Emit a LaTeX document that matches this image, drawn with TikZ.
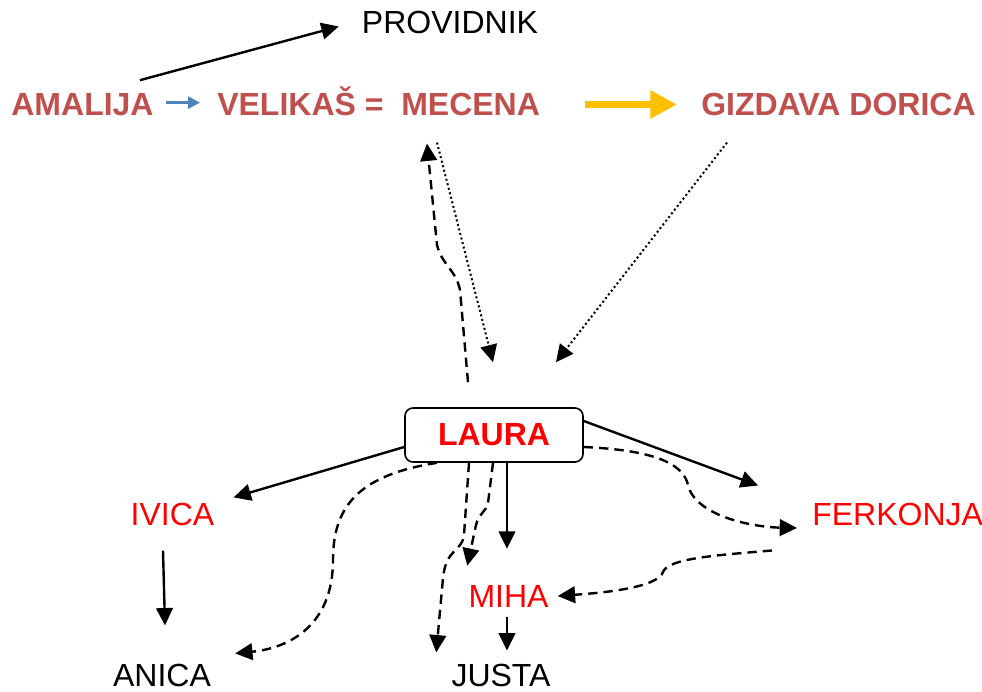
\documentclass[tikz,border=0pt]{standalone}
\usepackage{fontspec}
\setmainfont{Liberation Sans}
\usetikzlibrary{arrows.meta,calc}
\definecolor{tred}{HTML}{C0504D}
\definecolor{lred}{HTML}{FF0000}
\definecolor{ablue}{HTML}{4F81BD}
\definecolor{ayel}{HTML}{FFC000}
\begin{document}
\begin{tikzpicture}[x=0.75pt,y=-0.75pt,
  lbl/.style={inner sep=0pt, anchor=base, font=\fontsize{24}{28}\selectfont},
  hd/.style={lbl, font=\fontsize{24}{28}\selectfont\bfseries, text=tred},
  rd/.style={lbl, text=lred},
  conn/.style={line width=1.8pt, -{Triangle[length=13pt,width=12.5pt]}},
  dconn/.style={conn, dash pattern=on 7pt off 4.5pt},
  pconn/.style={line width=1.5pt, dash pattern=on 1.5pt off 2pt, -{Triangle[length=13pt,width=12.5pt]}},
  box/.style={draw, line width=1.2pt, rounded corners=6pt, minimum width=133.5pt, minimum height=40.5pt, inner sep=0pt, font=\fontsize{24}{28}\selectfont\bfseries, text=lred}]
\useasboundingbox (0,0) rectangle (982,692);

\node[lbl] (prov) at (450,34) {PROVIDNIK};
\node[hd] (amalija) at (82.5,115.5) {AMALIJA};
\node[hd, anchor=base west] (velikas) at (217,115.5) {VELIKAŠ =};
\node[hd, anchor=base west] (mecena) at (401,115.5) {MECENA};
\node[hd, anchor=base west] (dorica) at (701,115.5) {GIZDAVA DORICA};
\node[box] (laura) at (494,435) {LAURA};
\node[rd] (ivica) at (172.5,525) {IVICA};
\node[rd, anchor=base west] (ferkonja) at (812,525) {FERKONJA};
\node[rd] (miha) at (508.5,607) {MIHA};
\node[lbl] (anica) at (162,686) {ANICA};
\node[lbl] (justa) at (501,686) {JUSTA};

% top row
\draw[conn] ($(amalija.north east)+(-14,-13)$) -- ($(prov.west)+(-23,3.5)$);
\draw[draw=ablue, line width=2pt, -{Triangle[length=9pt,width=9pt]}]
  ($(amalija.east)+(12,-2)$) -- ($(velikas.west |- amalija.east)+(-17,-2)$);
\draw[draw=ayel, line width=5.5pt, -{Triangle[length=20pt,width=20pt]}]
  ($(mecena.east)+(45,0)$) -- ($(dorica.west |- mecena.east)+(-24,0)$);

% between mecena / dorica and laura
\draw[dconn] ($(laura.north)+(-26,-25)$) -- (460,290) .. controls (456,270) and (442,265) .. (437,245) -- ($(mecena.south west)+(26,27.5)$);
\draw[pconn] ($(mecena.south west)+(36,26.5)$) -- ($(laura.north)+(-1,-45)$);
\draw[pconn] ($(dorica.south west)+(26,26.5)$) -- ($(laura.north)+(62,-45)$);

% from laura
\draw[conn] ($(laura.west)+(0,12)$) -- ($(ivica.north east)+(19,-5)$);
\draw[conn] ($(ivica.south)+(-9.5,25)$) -- ($(anica.north)+(3,-38)$);
\draw[dconn] ($(laura.south)+(-57,0)$) .. controls (360,475) and (333,505) .. (333,560)
  .. controls (333,625) and (290,648) .. ($(anica.north east)+(24,-10)$);
\draw[dconn] ($(laura.south)+(-25,0)$) -- (464,535) .. controls (462,552) and (446,548) .. (443,578) -- ($(justa.north west)+(-15,-11)$);
\draw[dconn] ($(laura.south)+(-1,0)$) -- (488,503) .. controls (486,512) and (479,513) .. (476,525) -- ($(miha.north west)+(-1,-19)$);
\draw[conn] ($(laura.south)+(13,0)$) -- ($(miha.north)+(-1.5,-36)$);
\draw[conn] ($(miha.south)+(-1.5,10)$) -- ($(justa.north)+(6,-13)$);
\draw[conn] ($(laura.east)+(0,-14)$) -- ($(ferkonja.west)+(-54,-28.5)$);
\draw[dconn] ($(laura.east)+(0,12)$) .. controls (650,450) and (683,462) .. (688,485)
  .. controls (695,515) and (750,527) .. ($(ferkonja.west)+(-15,14)$);
\draw[dconn] ($(ferkonja.west)+(-40,36.5)$) .. controls (720,555) and (668,558) .. (663,572)
  .. controls (658,588) and (600,593) .. ($(miha.east)+(9,0)$);
\end{tikzpicture}
\end{document}
